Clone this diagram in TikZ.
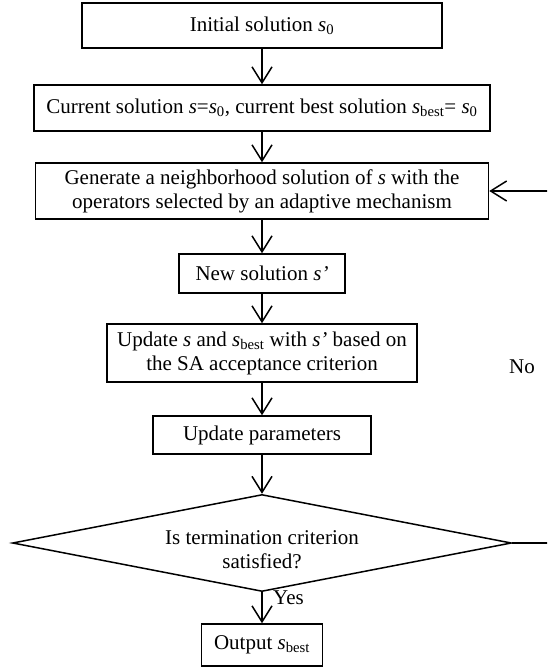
\documentclass[tikz,border=0pt]{standalone}
\usepackage{fontspec}
\setmainfont{Liberation Serif}
\usetikzlibrary{arrows.meta,shapes.geometric}
\begin{document}
\begin{tikzpicture}[x=1pt,y=-1pt,
  txt/.style={font=\fontsize{21}{24}\selectfont},
  box/.style={draw,line width=1.5pt,inner sep=0pt,align=center,txt},
  arr/.style={line width=1.5pt,-{Straight Barb[length=16pt,width=20pt,line width=1.5pt]}},
  lab/.style={inner sep=0pt,txt}]
\useasboundingbox (0,0) rectangle (547,669);
\clip (0,0) rectangle (547,669);
\node[box,minimum width=360pt,minimum height=45pt] (b1) at (262,25.5) {Initial solution \textit{s}\textsubscript{0}};
\node[box,minimum width=456pt,minimum height=46pt] (b2) at (262,108) {Current solution \textit{s}=\textit{s}\textsubscript{0}, current best solution \textit{s}\textsubscript{best}= \textit{s}\textsubscript{0}};
\node[box,minimum width=453pt,minimum height=56pt] (b3) at (262,191) {Generate a neighborhood solution of \textit{s} with the\\operators selected by an adaptive mechanism};
\node[box,minimum width=166pt,minimum height=39pt] (b4) at (262,273.5) {New solution \textit{s’}};
\node[box,minimum width=310pt,minimum height=58pt] (b5) at (262,353) {Update \textit{s} and \textit{s}\textsubscript{best} with \textit{s’} based on\\the SA acceptance criterion};
\node[box,minimum width=218pt,minimum height=38pt] (b6) at (262,435) {Update parameters};
\node[draw,line width=1.5pt,diamond,aspect=5.14,minimum width=499pt,minimum height=97pt,inner sep=0pt] (dec) at (262,543) {};
\node[lab,align=center] (dectext) at (262,550) {Is termination criterion\\satisfied?};
\node[box,minimum width=121pt,minimum height=42pt] (b7) at (262,645) {Output \textit{s}\textsubscript{best}};
\node[lab,anchor=west] (yes) at (273,598) {Yes};
\node[lab] (no) at (522,367) {No};
\coordinate (c1) at (552,543);
\draw[arr] (b1.south) -- (b2.north);
\draw[arr] (b2.south) -- (b3.north);
\draw[arr] (b3.south) -- (b4.north);
\draw[arr] (b4.south) -- (b5.north);
\draw[arr] (b5.south) -- (b6.north);
\draw[arr] (b6.south) -- (dec.north);
\draw[arr] (dec.south) -- (b7.north);
\draw[arr] (dec.east) -- (c1) |- (b3.east);
\end{tikzpicture}
\end{document}
